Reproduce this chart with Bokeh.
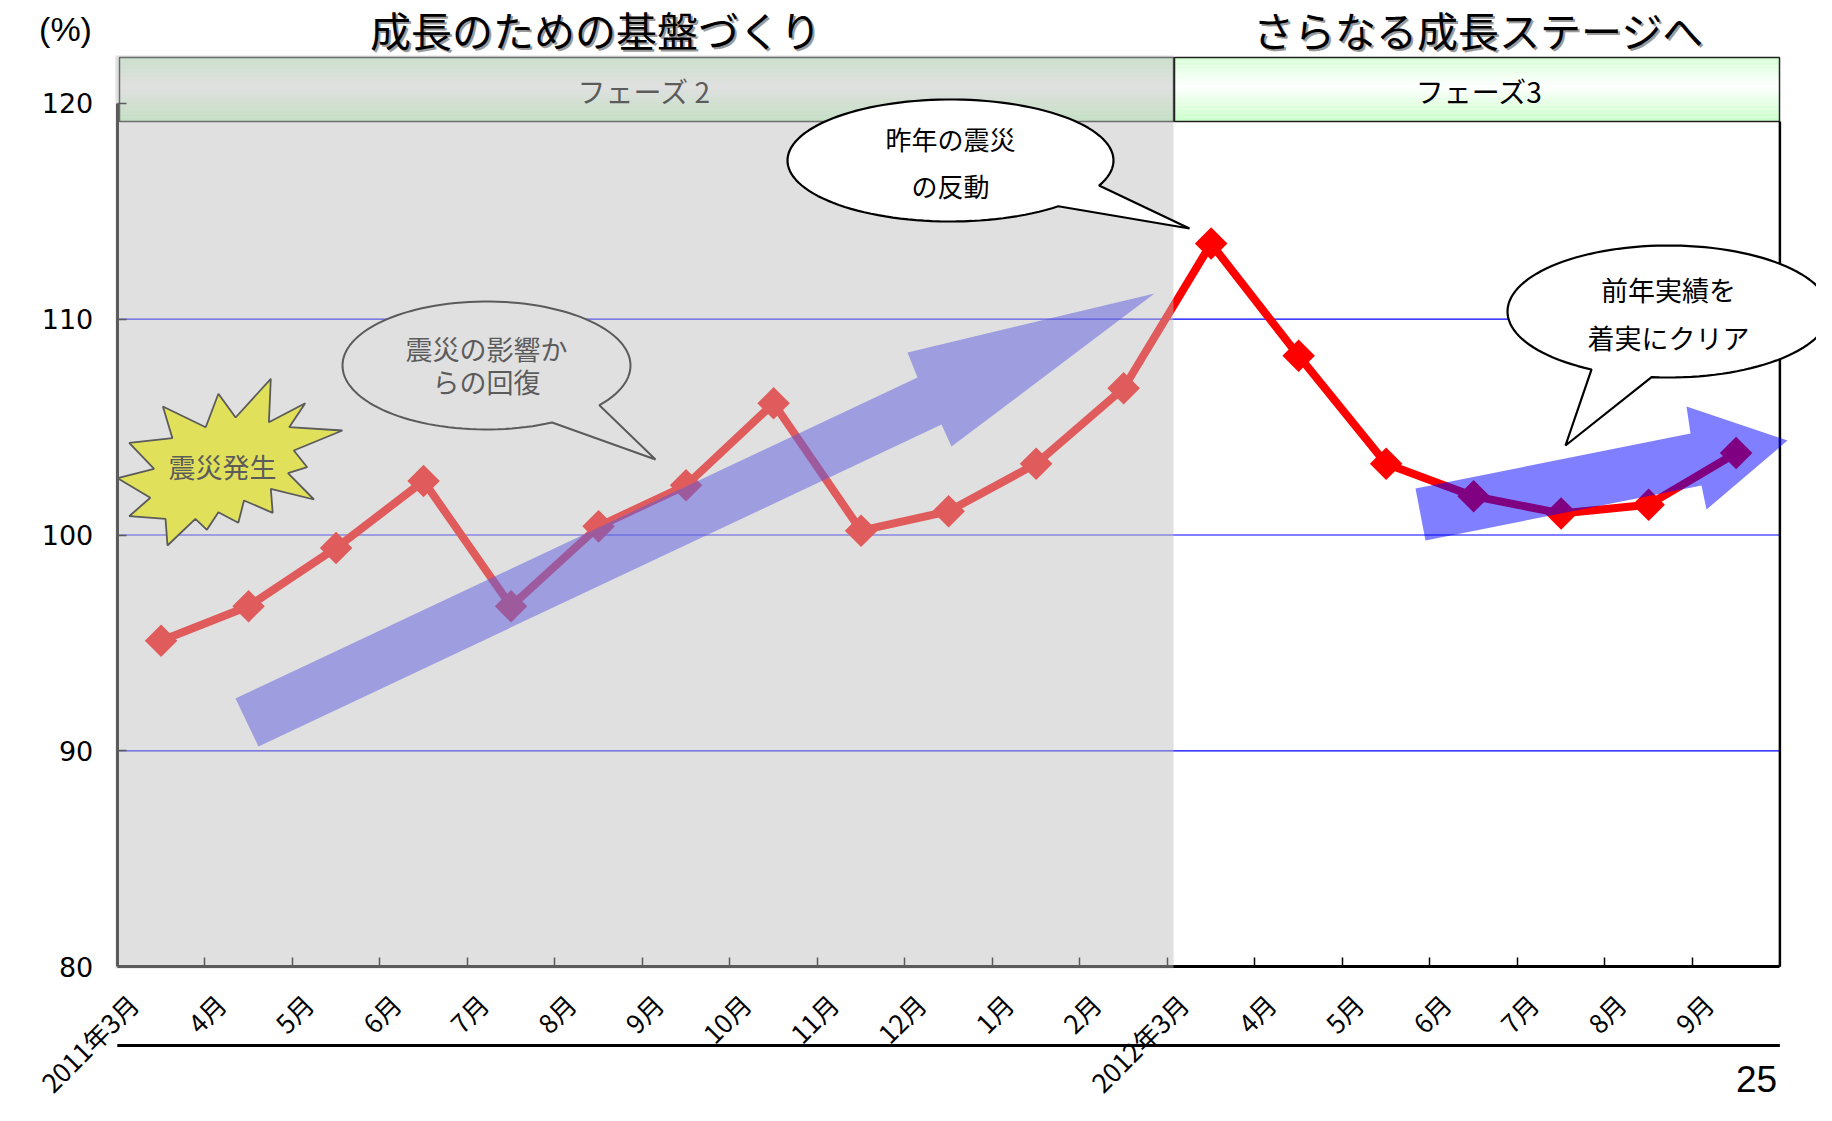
import numpy as np
from bokeh.plotting import figure
from bokeh.models import Range1d, FixedTicker, LinearAxis
from bokeh.core.properties import value
from bokeh.embed import file_html
from bokeh.resources import INLINE

# ---------------- data ----------------
months = ["2011年3月", "4月", "5月", "6月", "7月", "8月", "9月", "10月", "11月", "12月",
          "1月", "2月", "2012年3月", "4月", "5月", "6月", "7月", "8月", "9月"]
index_values = [95.1, 96.7, 99.4, 102.5, 96.7, 100.4, 102.3, 106.1, 100.2, 101.1,
                103.3, 106.8, 113.5, 108.3, 103.3, 101.8, 101.0, 101.4, 103.8]
y_ticks = [80, 90, 100, 110, 120]
grid_values = [90, 100, 110]
stage_titles = ["成長のための基盤づくり", "さらなる成長ステージへ"]
phase_labels = ["フェーズ 2", "フェーズ3"]
unit_label = "(%)"
page_number = "25"
bubble_texts = [["昨年の震災", "の反動"], ["震災の影響か", "らの回復"], ["前年実績を", "着実にクリア"]]
burst_text = "震災発生"

JP = "Noto Sans CJK JP"
W, H = 1816, 1105
ORIGIN = 0  # page pixel of canvas origin

# page pixel -> data coordinate helpers (for annotation shapes)
X0P, XS = 116.8, 87.505
Y120P, YS = 102.8, 21.585


def dx(px):
    return (px - X0P) / XS


def dy(py):
    return 120 - (py - Y120P) / YS


def conv(pts):
    return [dx(a) for a, b in pts], [dy(b) for a, b in pts]


p = figure(width=W, height=H, x_range=Range1d(dx(ORIGIN), dx(ORIGIN + W)),
           y_range=Range1d(dy(ORIGIN + H), dy(ORIGIN)),
           output_backend="svg", toolbar_location=None, min_border=0,
           x_axis_type=None, y_axis_type=None)
p.outline_line_color = None
p.background_fill_color = "white"

n = len(months)
centers = [i + 0.5 for i in range(n)]

# grid lines
p.segment(x0=[0] * len(grid_values), x1=[n] * len(grid_values), y0=grid_values, y1=grid_values,
          line_color="#0000FF", line_width=1.2)

# phase boxes (gradient bands)
nb = 16
top_p, bot_p = 57, 121
for (l, r) in [(119, 1173), (1174, 1779)]:
    lefts, rights, tops, bots, cols = [], [], [], [], []
    for k in range(nb):
        t = (k + 0.5) / nb
        if t < 0.45:
            g = (0.45 - t) / 0.45 * 0.75
        else:
            g = (t - 0.45) / 0.55
        c = int(round(255 - g * (255 - 0xC8)))
        cols.append("#%02x%02x%02x" % (c, 255, c))
        lefts.append(dx(l)); rights.append(dx(r))
        tops.append(dy(top_p + k * (bot_p - top_p) / nb))
        bots.append(dy(top_p + (k + 1) * (bot_p - top_p) / nb))
    p.quad(left=lefts, right=rights, top=tops, bottom=bots, fill_color=cols, line_color=None)
    p.quad(left=[dx(l)], right=[dx(r)], top=[dy(top_p)], bottom=[dy(bot_p)], fill_color=None,
           line_color="#222222", line_width=1.5)

p.text(x=[dx(644), dx(1479)], y=[dy(90)] * 2, text=phase_labels, text_font=value(JP),
       text_font_size="28px", text_color="black", text_align="center", text_baseline="middle")

# right frame line
p.segment(x0=[n], x1=[n], y0=[80], y1=[dy(bot_p)], line_color="black", line_width=2.5)

# starburst
burst = [(270.3, 378.3), (268.4, 421.7), (304.7, 402.7), (288.7, 426.7), (341.9, 430), (293.3, 450),
         (306.7, 466.7), (287.5, 472.7), (313.5, 499), (270.3, 488.3), (272.2, 512.3), (243.5, 500),
         (237.8, 522.3), (217.9, 511.7), (206.4, 529.3), (194.9, 518.3), (167, 545), (165, 518.3),
         (128.7, 515.7), (149.8, 497.3), (117.2, 477.7), (153.6, 468.3), (128.7, 442.3), (171.9, 437.7),
         (162.4, 406), (205.2, 426.7), (217.9, 393.3), (235.1, 417)]
bx, by = conv(burst)
p.patch(bx, by, fill_color="#FFFF00", line_color="black", line_width=1.8)
p.text(x=[dx(222)], y=[dy(466)], text=[burst_text], text_font=value(JP), text_font_size="27px",
       text_color="black", text_align="center", text_baseline="middle")


def bubble(cx, cy, rx, ry, b1, b2, tip, m=120):
    a1 = np.arctan2((b1[1] - cy) / ry, (b1[0] - cx) / rx)
    a2 = np.arctan2((b2[1] - cy) / ry, (b2[0] - cx) / rx)
    d = (a2 - a1) % (2 * np.pi)
    if d > np.pi:
        a1, a2 = a2, a1
        d = (a2 - a1) % (2 * np.pi)
    start = a1 + d
    angs = np.linspace(start, a1 + 2 * np.pi, m)
    pts = [(cx + rx * np.cos(a), cy + ry * np.sin(a)) for a in angs]
    pts.append(tip)
    return conv(pts)


# bubble: recovery (under overlay)
xs, ys = bubble(486, 365, 144, 64, (594, 403), (547, 418), (655, 459))
p.patch(xs, ys, fill_color="white", line_color="black", line_width=2)
p.text(x=[dx(486)] * 2, y=[dy(348), dy(381)], text=bubble_texts[1], text_font=value(JP),
       text_font_size="27px", text_color="black", text_align="center", text_baseline="middle")

# data line
p.line(centers, index_values, line_color="#FF0000", line_width=8)
p.scatter(centers, index_values, marker="square", size=23, angle=np.pi / 4,
          fill_color="#FF0000", line_color=None)

# arrows
arrow2 = [(258, 746), (941, 424), (951, 446), (1154, 293), (907, 352), (917, 377), (235, 698)]
ax_, ay_ = conv(arrow2)
p.patch(ax_, ay_, fill_color="#0000FF", fill_alpha=0.5, line_color=None)
arrow3 = [(1425, 540), (1701, 485), (1706, 509), (1787, 440), (1686, 406), (1690, 433), (1415, 488)]
ax_, ay_ = conv(arrow3)
p.patch(ax_, ay_, fill_color="#0000FF", fill_alpha=0.5, line_color=None)

# bubble: clear last year
xs, ys = bubble(1668, 311, 161, 66, (1591, 369), (1651, 377), (1565, 445))
p.patch(xs, ys, fill_color="white", line_color="black", line_width=2.2)
p.text(x=[dx(1668)] * 2, y=[dy(289), dy(337)], text=bubble_texts[2], text_font=value(JP),
       text_font_size="27px", text_color="black", text_align="center", text_baseline="middle")

# gray overlay for phase 2
p.quad(left=[dx(115)], right=[dx(1173)], top=[dy(55)], bottom=[dy(968)], fill_color="#BFBFBF",
       fill_alpha=0.48, line_color=None, level="annotation")

# bubble: rebound (above overlay)
xs, ys = bubble(950, 160, 163, 61, (1098, 185), (1063, 208), (1189, 228))
p.patch(xs, ys, fill_color="white", line_color="black", line_width=2.2, level="overlay")
p.text(x=[dx(950)] * 2, y=[dy(138), dy(185)], text=bubble_texts[0], text_font=value(JP),
       text_font_size="26px", text_color="black", text_align="center", text_baseline="middle",
       level="overlay")

# titles with shadow
p.text(x=[dx(597), dx(1480)], y=[dy(30)] * 2, text=stage_titles, text_font=value(JP),
       text_font_size="41px", text_color="#9A9A9A", text_align="center", text_baseline="middle")
p.text(x=[dx(595), dx(1478)], y=[dy(28)] * 2, text=stage_titles, text_font=value(JP),
       text_font_size="41px", text_color="black", text_align="center", text_baseline="middle")

p.text(x=[dx(65)], y=[dy(28)], text=[unit_label], text_font=value("Liberation Sans"),
       text_font_size="34px", text_color="black", text_align="center", text_baseline="middle")

# bottom slide line and page number
p.segment(x0=[0], x1=[n], y0=[dy(1045)], y1=[dy(1045)], line_color="black", line_width=3)
p.text(x=[dx(1756)], y=[dy(1078)], text=[page_number], text_font=value("Liberation Sans"),
       text_font_size="37px", text_color="black", text_align="center", text_baseline="middle")

# axes
label_pos = [c - 0.32 for c in centers]
xaxis = LinearAxis(fixed_location=80, bounds=(0, n),
                   ticker=FixedTicker(ticks=label_pos, minor_ticks=list(range(1, n))),
                   major_label_overrides={lp: m for lp, m in zip(label_pos, months)},
                   major_label_orientation=np.pi / 4,
                   major_tick_in=0, major_tick_out=0, minor_tick_in=9, minor_tick_out=0,
                   minor_tick_line_color="black", minor_tick_line_width=1.5,
                   axis_line_color="black", axis_line_width=3,
                   major_label_standoff=32, major_label_text_font=JP,
                   major_label_text_font_size="26px", major_label_text_color="black")
p.add_layout(xaxis, "below")

yaxis = LinearAxis(fixed_location=0, bounds=(80, 120), ticker=FixedTicker(ticks=y_ticks),
                   major_tick_in=9, major_tick_out=0, minor_tick_in=0, minor_tick_out=0,
                   axis_line_color="black", axis_line_width=3,
                   major_tick_line_color="black", major_tick_line_width=1.5,
                   major_label_standoff=24, major_label_text_font="DejaVu Sans",
                   major_label_text_font_size="27px", major_label_text_color="black")
p.add_layout(yaxis, "left")

open("out.html", "w").write(file_html(p, INLINE))
